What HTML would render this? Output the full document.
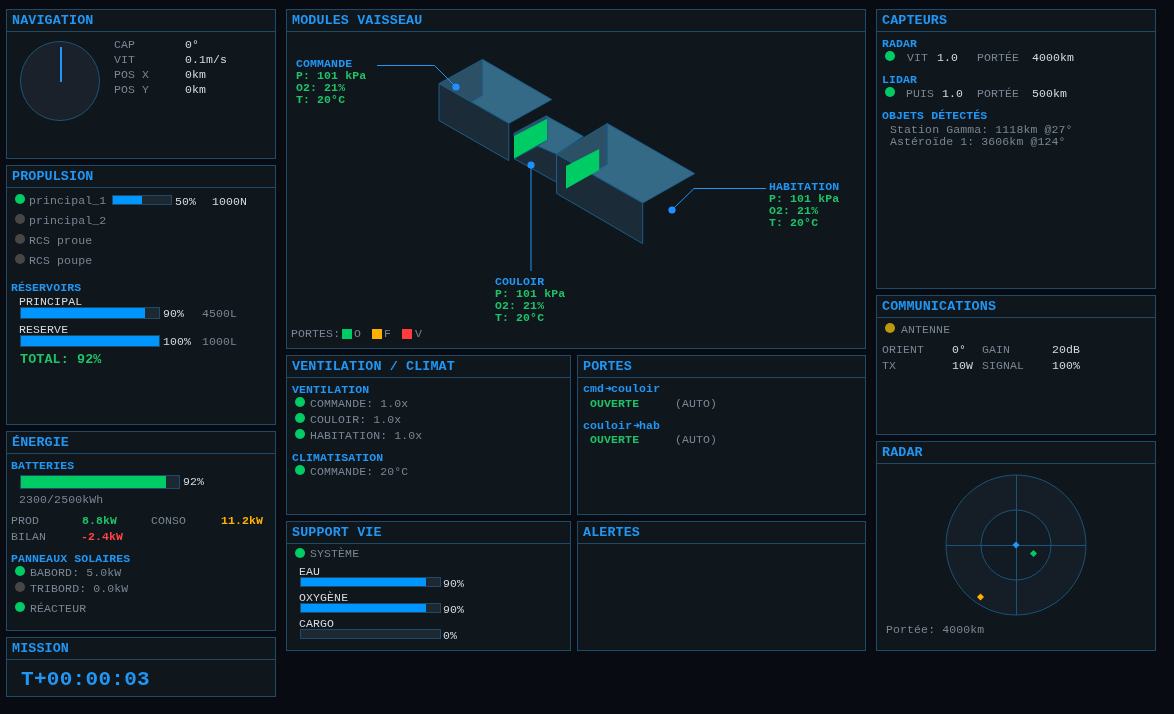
<!DOCTYPE html><html><head><meta charset="utf-8"><style>
*{margin:0;padding:0;box-sizing:border-box}
html,body{width:1174px;height:714px;overflow:hidden;background:#080b11}
body{position:relative;font-family:"Liberation Mono",monospace}
.p{position:absolute;background:#0f161c;border:1px solid #1f4a68}
.h{position:absolute;left:0;top:0;right:0;height:22px;border-bottom:1px solid #1f4a68}
.x{position:absolute;white-space:pre;will-change:transform}
.d{position:absolute;border-radius:50%}
.s{position:absolute;overflow:visible}
.bar{position:absolute;background:#1e2833;border:1px solid #1f4a68}
.t{font-size:13.4px;letter-spacing:0.11px;font-weight:bold;line-height:12px}
.n{font-size:11.5px;letter-spacing:0.12px;font-weight:normal;line-height:10px}
.b{font-size:11.5px;letter-spacing:0.12px;font-weight:bold;line-height:10px}
.tot{font-size:12.1px;letter-spacing:0.64px;font-weight:bold;line-height:12px}
.big{font-size:21.0px;letter-spacing:0.3px;font-weight:bold;line-height:20px}
</style></head><body><div class="p" style="left:6px;top:9px;width:270px;height:150px"><div class="h"></div></div>
<div class="x t" style="left:12px;top:15px;color:#2196f3">NAVIGATION</div>
<svg class="s" style="left:19px;top:40px" width="83" height="83"><circle cx="41" cy="41" r="39.5" fill="#1a212a" stroke="#1c5578" stroke-width="1"/><line x1="42" y1="7" x2="42" y2="42" stroke="#2196f3" stroke-width="2"/></svg>
<div class="x n" style="left:114.3px;top:40px;color:#7a8693">CAP</div>
<div class="x n" style="left:185.3px;top:40px;color:#d5dbe0">0°</div>
<div class="x n" style="left:114.3px;top:55px;color:#7a8693">VIT</div>
<div class="x n" style="left:185.3px;top:55px;color:#d5dbe0">0.1m/s</div>
<div class="x n" style="left:114.3px;top:70px;color:#7a8693">POS X</div>
<div class="x n" style="left:185.3px;top:70px;color:#d5dbe0">0km</div>
<div class="x n" style="left:114.3px;top:85px;color:#7a8693">POS Y</div>
<div class="x n" style="left:185.3px;top:85px;color:#d5dbe0">0km</div>
<div class="p" style="left:6px;top:165px;width:270px;height:260px"><div class="h"></div></div>
<div class="x t" style="left:12px;top:171px;color:#2196f3">PROPULSION</div>
<div class="d" style="left:15px;top:194px;width:10px;height:10px;background:#00cc66"></div>
<div class="x n" style="left:29.3px;top:196px;color:#7a8693">principal_1</div>
<div class="d" style="left:15px;top:214px;width:10px;height:10px;background:#474747"></div>
<div class="x n" style="left:29.3px;top:216px;color:#7a8693">principal_2</div>
<div class="d" style="left:15px;top:234px;width:10px;height:10px;background:#474747"></div>
<div class="x n" style="left:29.3px;top:236px;color:#7a8693">RCS proue</div>
<div class="d" style="left:15px;top:254px;width:10px;height:10px;background:#474747"></div>
<div class="x n" style="left:29.3px;top:256px;color:#7a8693">RCS poupe</div>
<div class="bar" style="left:112px;top:195px;width:60px;height:10px"><div style="width:29px;height:100%;background:#0096ff"></div></div>
<div class="x n" style="left:175.3px;top:197px;color:#d5dbe0">50%</div>
<div class="x n" style="left:212.3px;top:197px;color:#d5dbe0">1000N</div>
<div class="x b" style="left:11.3px;top:283px;color:#2196f3">RÉSERVOIRS</div>
<div class="x n" style="left:19.3px;top:297px;color:#d5dbe0">PRINCIPAL</div>
<div class="bar" style="left:20px;top:307px;width:140px;height:12px"><div style="width:124px;height:100%;background:#0096ff"></div></div>
<div class="x n" style="left:163.3px;top:309px;color:#d5dbe0">90%</div>
<div class="x n" style="left:202.3px;top:309px;color:#7a8693">4500L</div>
<div class="x n" style="left:19.3px;top:325px;color:#d5dbe0">RESERVE</div>
<div class="bar" style="left:20px;top:335px;width:140px;height:12px"><div style="width:138px;height:100%;background:#0096ff"></div></div>
<div class="x n" style="left:163.3px;top:337px;color:#d5dbe0">100%</div>
<div class="x n" style="left:202.3px;top:337px;color:#7a8693">1000L</div>
<div class="x t" style="left:20px;top:354px;color:#1fc267">TOTAL: 92%</div>
<div class="p" style="left:6px;top:431px;width:270px;height:200px"><div class="h"></div></div>
<div class="x t" style="left:12px;top:437px;color:#2196f3">ÉNERGIE</div>
<div class="x b" style="left:11.3px;top:461px;color:#2196f3">BATTERIES</div>
<div class="bar" style="left:20px;top:475px;width:160px;height:14px"><div style="width:145px;height:100%;background:#00cc66"></div></div>
<div class="x n" style="left:183.3px;top:477px;color:#d5dbe0">92%</div>
<div class="x n" style="left:19.3px;top:495px;color:#7a8693">2300/2500kWh</div>
<div class="x n" style="left:11.3px;top:516px;color:#7a8693">PROD</div>
<div class="x b" style="left:82.3px;top:516px;color:#1fc267">8.8kW</div>
<div class="x n" style="left:151.3px;top:516px;color:#7a8693">CONSO</div>
<div class="x b" style="left:221.3px;top:516px;color:#ffb000">11.2kW</div>
<div class="x n" style="left:11.3px;top:532px;color:#7a8693">BILAN</div>
<div class="x b" style="left:81.3px;top:532px;color:#ff4444">-2.4kW</div>
<div class="x b" style="left:11.3px;top:554px;color:#2196f3">PANNEAUX SOLAIRES</div>
<div class="d" style="left:15px;top:566px;width:10px;height:10px;background:#00cc66"></div>
<div class="x n" style="left:30.3px;top:568px;color:#7a8693">BABORD: 5.0kW</div>
<div class="d" style="left:15px;top:582px;width:10px;height:10px;background:#474747"></div>
<div class="x n" style="left:30.3px;top:584px;color:#7a8693">TRIBORD: 0.0kW</div>
<div class="d" style="left:15px;top:602px;width:10px;height:10px;background:#00cc66"></div>
<div class="x n" style="left:30.3px;top:604px;color:#7a8693">RÉACTEUR</div>
<div class="p" style="left:6px;top:637px;width:270px;height:60px"><div class="h"></div></div>
<div class="x t" style="left:12px;top:643px;color:#2196f3">MISSION</div>
<div class="x big" style="left:21px;top:670px;color:#2196f3">T+00:00:03</div>
<div class="p" style="left:286px;top:9px;width:580px;height:340px"><div class="h"></div></div>
<div class="x t" style="left:292px;top:15px;color:#2196f3">MODULES VAISSEAU</div>
<svg class="s" style="left:0;top:0" width="1174" height="714">
<g stroke="#1a5f8c" stroke-width="1" stroke-linejoin="round">
<!-- command box -->
<polygon points="439,83.6 482.5,59.4 482.5,95.2 471.2,102" fill="#2c5066"/>
<polygon points="482.5,59.4 551.7,99.5 508.8,123.4 471.2,102 482.5,95.2" fill="#346a85"/>
<polygon points="439,83.6 508.8,123.4 508.8,160.6 439,120.6" fill="#1b2c38"/>
<!-- corridor -->
<polygon points="546.2,115.9 583.4,136.4 556.6,154.2 537.7,146 547,140.1 547.2,118.8" fill="#346a85"/>
<polygon points="514,133.2 546.2,115.9 547.2,118.8 514,136" fill="#2c5066"/>
<polygon points="514,158.6 537.7,146 556.6,154.2 556.6,182.3" fill="#1b2c38"/>
<!-- habitation -->
<polygon points="556.6,154.2 607.3,123.5 607.3,164.2 591.3,173.9" fill="#2c5066"/>
<polygon points="607.3,123.5 694.7,173.6 642.7,203 591.3,173.9 607.3,164.2" fill="#346a85"/>
<polygon points="556.6,154.2 642.7,203 642.7,243.6 556.6,193.5" fill="#1b2c38"/>
</g>
<polygon points="514,136 547.2,118.8 547,140.1 514,158.6" fill="#00cc66"/>
<polygon points="566,166 599.2,149 599.2,169.9 566,188.8" fill="#00cc66"/>
<g stroke="#2196f3" stroke-width="1" fill="none">
<polyline points="377,65.5 434.5,65.5 456,87"/>
<polyline points="531,165 531,271"/>
<polyline points="766,188.5 694,188.5 672,210"/>
</g>
<g fill="#1e90ff">
<circle cx="456" cy="87" r="3.6"/>
<circle cx="531" cy="165" r="3.6"/>
<circle cx="672" cy="210" r="3.6"/>
</g>
</svg>
<div class="x b" style="left:296.3px;top:59px;color:#2196f3">COMMANDE</div>
<div class="x b" style="left:296.3px;top:71px;color:#1fc267">P: 101 kPa</div>
<div class="x b" style="left:296.3px;top:83px;color:#1fc267">O2: 21%</div>
<div class="x b" style="left:296.3px;top:95px;color:#1fc267">T: 20°C</div>
<div class="x b" style="left:769.3px;top:182px;color:#2196f3">HABITATION</div>
<div class="x b" style="left:769.3px;top:194px;color:#1fc267">P: 101 kPa</div>
<div class="x b" style="left:769.3px;top:206px;color:#1fc267">O2: 21%</div>
<div class="x b" style="left:769.3px;top:218px;color:#1fc267">T: 20°C</div>
<div class="x b" style="left:495.3px;top:277px;color:#2196f3">COULOIR</div>
<div class="x b" style="left:495.3px;top:289px;color:#1fc267">P: 101 kPa</div>
<div class="x b" style="left:495.3px;top:301px;color:#1fc267">O2: 21%</div>
<div class="x b" style="left:495.3px;top:313px;color:#1fc267">T: 20°C</div>
<div class="x n" style="left:291.3px;top:329px;color:#7a8693">PORTES:</div>
<div style="position:absolute;left:342px;top:329px;width:10px;height:10px;background:#00cc66"></div>
<div class="x n" style="left:354.3px;top:329px;color:#7a8693">O</div>
<div style="position:absolute;left:372px;top:329px;width:10px;height:10px;background:#ffb000"></div>
<div class="x n" style="left:384.3px;top:329px;color:#7a8693">F</div>
<div style="position:absolute;left:402px;top:329px;width:10px;height:10px;background:#ff3b3b"></div>
<div class="x n" style="left:415.3px;top:329px;color:#7a8693">V</div>
<div class="p" style="left:286px;top:355px;width:285px;height:160px"><div class="h"></div></div>
<div class="x t" style="left:292px;top:361px;color:#2196f3">VENTILATION / CLIMAT</div>
<div class="x b" style="left:292.3px;top:385px;color:#2196f3">VENTILATION</div>
<div class="d" style="left:295px;top:397px;width:10px;height:10px;background:#00cc66"></div>
<div class="x n" style="left:310.3px;top:399px;color:#7a8693">COMMANDE: 1.0x</div>
<div class="d" style="left:295px;top:413px;width:10px;height:10px;background:#00cc66"></div>
<div class="x n" style="left:310.3px;top:415px;color:#7a8693">COULOIR: 1.0x</div>
<div class="d" style="left:295px;top:429px;width:10px;height:10px;background:#00cc66"></div>
<div class="x n" style="left:310.3px;top:431px;color:#7a8693">HABITATION: 1.0x</div>
<div class="x b" style="left:292.3px;top:453px;color:#2196f3">CLIMATISATION</div>
<div class="d" style="left:295px;top:465px;width:10px;height:10px;background:#00cc66"></div>
<div class="x n" style="left:310.3px;top:467px;color:#7a8693">COMMANDE: 20°C</div>
<div class="p" style="left:577px;top:355px;width:289px;height:160px"><div class="h"></div></div>
<div class="x t" style="left:583px;top:361px;color:#2196f3">PORTES</div>
<div class="x b" style="left:583.3px;top:384px;color:#2196f3">cmd</div>
<svg class="s" style="left:0;top:0" width="1174" height="714"><g stroke="#2196f3" stroke-width="1.3" fill="none"><line x1="605.66" y1="388.5" x2="610.86" y2="388.5"/><polyline points="608.66,386.5 610.86,388.5 608.66,390.5"/></g></svg>
<div class="x b" style="left:611.38px;top:384px;color:#2196f3">couloir</div>
<div class="x b" style="left:590.3px;top:399px;color:#1fc267">OUVERTE</div>
<div class="x n" style="left:675.3px;top:399px;color:#7a8693">(AUTO)</div>
<div class="x b" style="left:583.3px;top:421px;color:#2196f3">couloir</div>
<svg class="s" style="left:0;top:0" width="1174" height="714"><g stroke="#2196f3" stroke-width="1.3" fill="none"><line x1="633.74" y1="425.5" x2="638.94" y2="425.5"/><polyline points="636.74,423.5 638.94,425.5 636.74,427.5"/></g></svg>
<div class="x b" style="left:639.4599999999999px;top:421px;color:#2196f3">hab</div>
<div class="x b" style="left:590.3px;top:435px;color:#1fc267">OUVERTE</div>
<div class="x n" style="left:675.3px;top:435px;color:#7a8693">(AUTO)</div>
<div class="p" style="left:286px;top:521px;width:285px;height:130px"><div class="h"></div></div>
<div class="x t" style="left:292px;top:527px;color:#2196f3">SUPPORT VIE</div>
<div class="d" style="left:295px;top:548px;width:10px;height:10px;background:#00cc66"></div>
<div class="x n" style="left:310.3px;top:549px;color:#7a8693">SYSTÈME</div>
<div class="x n" style="left:299.3px;top:567px;color:#d5dbe0">EAU</div>
<div class="bar" style="left:300px;top:577px;width:141px;height:10px"><div style="width:125px;height:100%;background:#0096ff"></div></div>
<div class="x n" style="left:443.3px;top:579px;color:#d5dbe0">90%</div>
<div class="x n" style="left:299.3px;top:593px;color:#d5dbe0">OXYGÈNE</div>
<div class="bar" style="left:300px;top:603px;width:141px;height:10px"><div style="width:125px;height:100%;background:#0096ff"></div></div>
<div class="x n" style="left:443.3px;top:605px;color:#d5dbe0">90%</div>
<div class="x n" style="left:299.3px;top:619px;color:#d5dbe0">CARGO</div>
<div class="bar" style="left:300px;top:629px;width:141px;height:10px"><div style="width:0px;height:100%;background:#0096ff"></div></div>
<div class="x n" style="left:443.3px;top:631px;color:#d5dbe0">0%</div>
<div class="p" style="left:577px;top:521px;width:289px;height:130px"><div class="h"></div></div>
<div class="x t" style="left:583px;top:527px;color:#2196f3">ALERTES</div>
<div class="p" style="left:876px;top:9px;width:280px;height:280px"><div class="h"></div></div>
<div class="x t" style="left:882px;top:15px;color:#2196f3">CAPTEURS</div>
<div class="x b" style="left:882.3px;top:39px;color:#2196f3">RADAR</div>
<div class="d" style="left:885px;top:51px;width:10px;height:10px;background:#00cc66"></div>
<div class="x n" style="left:907.3px;top:53px;color:#7a8693">VIT</div>
<div class="x n" style="left:937.3px;top:53px;color:#d5dbe0">1.0</div>
<div class="x n" style="left:977.3px;top:53px;color:#7a8693">PORTÉE</div>
<div class="x n" style="left:1032.3px;top:53px;color:#d5dbe0">4000km</div>
<div class="x b" style="left:882.3px;top:75px;color:#2196f3">LIDAR</div>
<div class="d" style="left:885px;top:87px;width:10px;height:10px;background:#00cc66"></div>
<div class="x n" style="left:906.3px;top:89px;color:#7a8693">PUIS</div>
<div class="x n" style="left:942.3px;top:89px;color:#d5dbe0">1.0</div>
<div class="x n" style="left:977.3px;top:89px;color:#7a8693">PORTÉE</div>
<div class="x n" style="left:1032.3px;top:89px;color:#d5dbe0">500km</div>
<div class="x b" style="left:882.3px;top:111px;color:#2196f3">OBJETS DÉTECTÉS</div>
<div class="x n" style="left:890.3px;top:125px;color:#7a8693">Station Gamma: 1118km @27°</div>
<div class="x n" style="left:890.3px;top:137px;color:#7a8693">Astéroïde 1: 3606km @124°</div>
<div class="p" style="left:876px;top:295px;width:280px;height:140px"><div class="h"></div></div>
<div class="x t" style="left:882px;top:301px;color:#2196f3">COMMUNICATIONS</div>
<div class="d" style="left:885px;top:323px;width:10px;height:10px;background:#bb980c"></div>
<div class="x n" style="left:901.3px;top:325px;color:#7a8693">ANTENNE</div>
<div class="x n" style="left:882.3px;top:345px;color:#7a8693">ORIENT</div>
<div class="x n" style="left:952.3px;top:345px;color:#d5dbe0">0°</div>
<div class="x n" style="left:982.3px;top:345px;color:#7a8693">GAIN</div>
<div class="x n" style="left:1052.3px;top:345px;color:#d5dbe0">20dB</div>
<div class="x n" style="left:882.3px;top:361px;color:#7a8693">TX</div>
<div class="x n" style="left:952.3px;top:361px;color:#d5dbe0">10W</div>
<div class="x n" style="left:982.3px;top:361px;color:#7a8693">SIGNAL</div>
<div class="x n" style="left:1052.3px;top:361px;color:#d5dbe0">100%</div>
<div class="p" style="left:876px;top:441px;width:280px;height:210px"><div class="h"></div></div>
<div class="x t" style="left:882px;top:447px;color:#2196f3">RADAR</div>
<svg class="s" style="left:0;top:0" width="1174" height="714">
<circle cx="1016" cy="545" r="70" fill="#151d27" stroke="#1b5479" stroke-width="1"/>
<circle cx="1016" cy="545" r="35" fill="#121a23" stroke="#1b5479" stroke-width="1"/>
<line x1="946" y1="545.5" x2="1086" y2="545.5" stroke="#1b5479"/>
<line x1="1016.5" y1="475" x2="1016.5" y2="615" stroke="#1b5479"/>
<rect x="1013.5" y="542.5" width="5" height="5" fill="#2196f3" transform="rotate(45 1016 545)"/>
<rect x="1031" y="551" width="5" height="5" fill="#00cc66" transform="rotate(45 1033.5 553.5)"/>
<rect x="978" y="594.5" width="5" height="5" fill="#ffb000" transform="rotate(45 980.5 597)"/>
</svg>
<div class="x n" style="left:886.3px;top:625px;color:#7a8693">Portée: 4000km</div></body></html>
